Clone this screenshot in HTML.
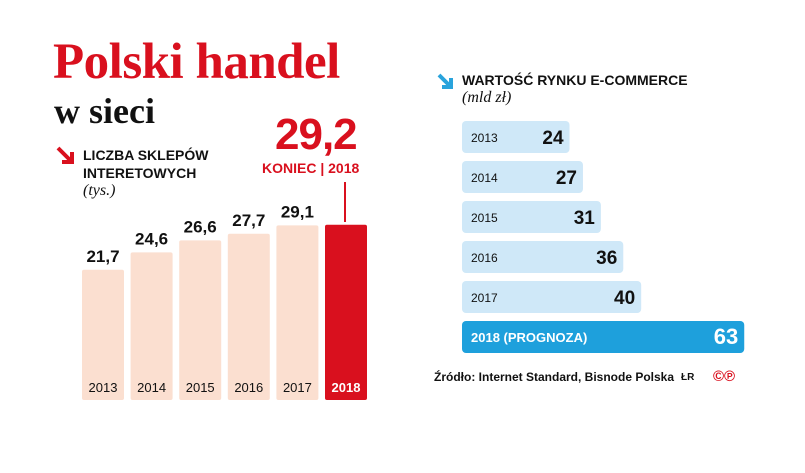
<!DOCTYPE html>
<html><head><meta charset="utf-8"><style>
body{margin:0;width:805px;height:473px;background:#fff;overflow:hidden;position:relative;font-family:"Liberation Sans",sans-serif}
.a{position:absolute;white-space:nowrap}
</style></head><body>
<div class="a" style="left:53px;top:33px;font:bold 51px 'Liberation Serif',serif;color:#d9101e;letter-spacing:-0.5px">Polski handel</div>
<div class="a" style="left:54px;top:90px;font:bold 36px 'Liberation Serif',serif;color:#111">w sieci</div>
<svg class="a" style="left:55px;top:145px" width="22" height="22"><path d="M3 3 L17 17 M17 7 L17 17 L7 17" stroke="#d9101e" stroke-width="4" fill="none"/></svg>
<div class="a" style="left:83px;top:146px;font:bold 14px 'Liberation Sans',sans-serif;line-height:18px;color:#111">LICZBA SKLEPÓW<br>INTERETOWYCH</div>
<div class="a" style="left:83px;top:182px;font:italic 16px 'Liberation Serif',serif;color:#111">(tys.)</div>
<div class="a" style="left:275px;top:110px;font:bold 44px 'Liberation Sans',sans-serif;color:#d9101e;letter-spacing:-1px">29,2</div>
<div class="a" style="left:262px;top:160px;font:bold 14px 'Liberation Sans',sans-serif;color:#d9101e">KONIEC | 2018</div>
<div class="a" style="left:344px;top:182px;width:2px;height:40px;background:#d9101e"></div>
<svg class="a" id="left" style="left:0;top:0" width="400" height="473"></svg>
<svg class="a" style="left:436px;top:72px" width="20" height="20"><path d="M3 3 L15 15 M15 6 L15 15 L6 15" stroke="#29a3dc" stroke-width="4" fill="none"/></svg>
<div class="a" style="left:462px;top:72px;font:bold 14px 'Liberation Sans',sans-serif;color:#111">WARTOŚĆ RYNKU E-COMMERCE</div>
<div class="a" style="left:462px;top:89px;font:italic 16px 'Liberation Serif',serif;color:#111">(mld zł)</div>
<svg class="a" id="right" style="left:0;top:0" width="805" height="473"></svg>
<div class="a" style="left:434px;top:370px;font:bold 12px 'Liberation Sans',sans-serif;color:#111">Źródło: Internet Standard, Bisnode Polska</div>
<div class="a" style="left:681px;top:372px;font:bold 10px 'Liberation Sans',sans-serif;color:#111">ŁR</div>
<div class="a" style="left:713px;top:368px;font:bold 15px 'Liberation Sans',sans-serif;color:#d9101e">©℗</div>
<script>
const years=["2013","2014","2015","2016","2017","2018"];
const shops=[21.7,24.6,26.6,27.7,29.1,29.2];
const shopLabels=["21,7","24,6","26,6","27,7","29,1",""];
const ecoYears=["2013","2014","2015","2016","2017","2018"];
const ecoValues=[24,27,31,36,40,63];
const NS="http://www.w3.org/2000/svg";
function mk(p,t,a){const e=document.createElementNS(NS,t);for(const k in a)e.setAttribute(k,a[k]);p.appendChild(e);return e;}
const L=document.getElementById('left');
const base=400,ys=v=>base-v*6,xs=i=>82+i*48.6,bw=42;
shops.forEach((v,i)=>{const last=i===shops.length-1;
 const r=mk(L,'rect',{x:xs(i),y:ys(v),width:bw,height:base-ys(v),rx:2,fill:last?'#d9101e':'#fbdfd0'});
 
 
 const t=mk(L,'text',{x:xs(i)+bw/2,y:392,'text-anchor':'middle','font-size':13,'font-family':'Liberation Sans',fill:last?'#fff':'#111','font-weight':last?'bold':'normal'});t.textContent=years[i];
 
 
 if(shopLabels[i]){const l=mk(L,'text',{x:xs(i)+bw/2,y:ys(v)-8,'text-anchor':'middle','font-size':17,'font-weight':'bold','font-family':'Liberation Sans',fill:'#111'});l.textContent=shopLabels[i];
 
 }
});
const R=document.getElementById('right');
const x0=462,xw=v=>v*4.48,yr=i=>121+i*40;
ecoValues.forEach((v,i)=>{const last=i===ecoValues.length-1;
 const r=mk(R,'rect',{x:x0,y:yr(i),width:xw(v),height:32,rx:4,fill:last?'#1ea0dc':'#cfe8f8'});
 
 
 const t=mk(R,'text',{x:x0+9,y:yr(i)+21,'font-size':last?13:12,'font-family':'Liberation Sans',fill:last?'#fff':'#111','font-weight':last?'bold':'normal'});t.textContent=last?ecoYears[i]+' (PROGNOZA)':ecoYears[i];
 
 
 const l=mk(R,'text',{x:x0+xw(v)-6,y:yr(i)+23,'text-anchor':'end','font-size':last?22:19,'font-weight':'bold','font-family':'Liberation Sans',fill:last?'#fff':'#111'});l.textContent=v;
 
 
});
</script>
</body></html>
